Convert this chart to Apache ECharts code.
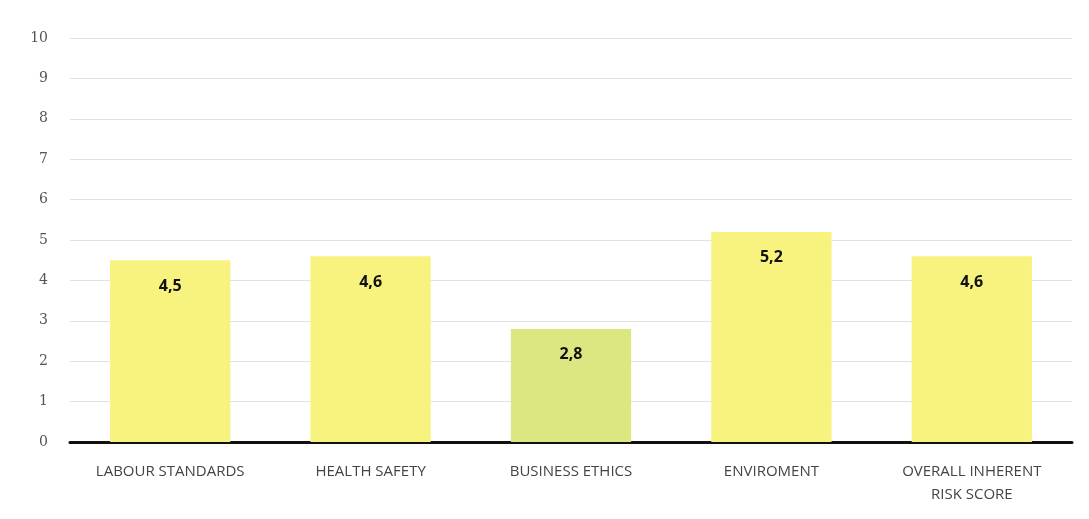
<!DOCTYPE html>
<html><head><meta charset="utf-8">
<script src="https://cdn.jsdelivr.net/npm/echarts@6/dist/echarts.min.js"></script>
<style>html,body{margin:0;padding:0;background:#fff}#c{width:1089px;height:519px}</style>
</head><body><div id="c"></div>
<script>
const categories = ['LABOUR STANDARDS', 'HEALTH SAFETY', 'BUSINESS ETHICS', 'ENVIROMENT', 'OVERALL INHERENT\nRISK SCORE'];
const values = [4.5, 4.6, 2.8, 5.2, 4.6];
const barColors = ['#F8F27E', '#F8F27E', '#DCE781', '#F8F27E', '#F8F27E'];
const yTicks = [0, 1, 2, 3, 4, 5, 6, 7, 8, 9, 10];

const chart = echarts.init(document.getElementById('c'));
chart.setOption({
  backgroundColor: '#fff',
  animation: false,
  grid: { left: 70, right: 17, top: 38, bottom: 77 },
  xAxis: {
    type: 'category',
    data: categories,
    axisLine: { lineStyle: { color: '#111', width: 3 } },
    axisTick: { show: false },
    axisLabel: { color: '#444', fontSize: 15, fontFamily: 'Open Sans', margin: 18, lineHeight: 23 }
  },
  yAxis: {
    type: 'value',
    min: yTicks[0], max: yTicks[yTicks.length - 1], interval: 1,
    axisLine: { show: false },
    axisTick: { show: false },
    splitLine: { lineStyle: { color: '#e2e2e2', width: 1 } },
    axisLabel: { color: '#555', fontSize: 14, fontFamily: 'DejaVu Serif', margin: 22 }
  },
  series: [{
    type: 'bar',
    barWidth: '60%',
    data: values.map((v, i) => ({ value: v, itemStyle: { color: barColors[i] } })),
    label: {
      show: true, position: 'insideTop', distance: 18,
      formatter: p => String(p.value).replace('.', ','),
      fontWeight: 'bold', fontSize: 16, color: '#111', fontFamily: 'Open Sans'
    }
  }]
});
</script></body></html>
